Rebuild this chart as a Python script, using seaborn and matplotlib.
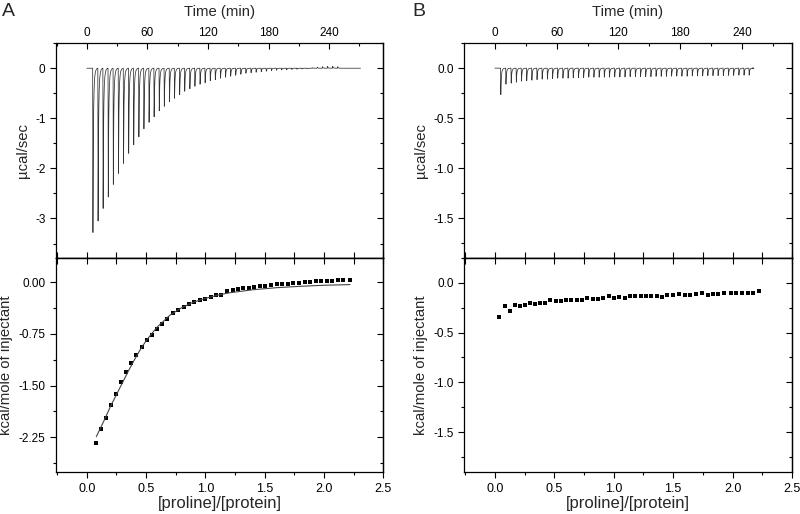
import numpy as np
import pandas as pd
import matplotlib
matplotlib.use("Agg")
import matplotlib.pyplot as plt
import seaborn as sns
from matplotlib.ticker import MultipleLocator, FormatStrFormatter, NullFormatter

# ---------------- data ----------------
# Panel A raw thermogram: injection times (min) and peak heights (ucal/sec)
A_inj_time = [5.8, 10.9, 15.9, 21.0, 26.0, 31.1, 36.1, 41.2, 46.2, 51.3,
              56.3, 61.4, 66.4, 71.5, 76.5, 81.6, 86.6, 91.7, 96.7, 101.8,
              106.8, 111.9, 116.9, 122.0, 127.0, 132.1, 137.1, 142.2, 147.2, 152.3,
              157.3, 162.4, 167.4, 172.5, 177.5, 182.6, 187.6, 192.7, 197.7, 202.8,
              207.8, 212.9, 217.9, 223.0, 228.0, 233.1, 238.1, 243.2, 248.2]
A_peak = [-3.28, -3.05, -2.80, -2.57, -2.32, -2.10, -1.90, -1.70, -1.53, -1.37,
          -1.21, -1.08, -0.97, -0.85, -0.76, -0.67, -0.60, -0.53, -0.46, -0.41,
          -0.36, -0.32, -0.29, -0.25, -0.23, -0.20, -0.18, -0.16, -0.14, -0.12,
          -0.10, -0.09, -0.08, -0.07, -0.06, -0.05, -0.04, -0.035, -0.03, -0.025,
          -0.02, -0.015, -0.01, 0.01, 0.02, 0.03, 0.035, 0.04, 0.03]
A_trace_end = 271.0

# Panel A integrated heats
A_ratio = [0.079, 0.121, 0.163, 0.205, 0.248, 0.290, 0.332, 0.374, 0.417, 0.462,
           0.507, 0.549, 0.592, 0.634, 0.676, 0.727, 0.769, 0.817, 0.862, 0.907,
           0.952, 1.000, 1.048, 1.093, 1.135, 1.183, 1.231, 1.276, 1.318, 1.366,
           1.414, 1.459, 1.507, 1.555, 1.600, 1.648, 1.696, 1.741, 1.789, 1.837,
           1.882, 1.930, 1.978, 2.023, 2.071, 2.118, 2.164, 2.217]
A_heat = [-2.33, -2.13, -1.97, -1.78, -1.62, -1.45, -1.30, -1.17, -1.055, -0.945,
          -0.84, -0.76, -0.68, -0.605, -0.54, -0.445, -0.40, -0.365, -0.32, -0.285,
          -0.257, -0.238, -0.209, -0.18, -0.19, -0.13, -0.112, -0.097, -0.088, -0.078,
          -0.064, -0.054, -0.049, -0.035, -0.03, -0.02, -0.02, -0.01, -0.005, 0.005,
          0.005, 0.01, 0.015, 0.015, 0.02, 0.03, 0.033, 0.035]
# Panel A fitted curve
A_fit_ratio = [0.08, 0.15, 0.2, 0.25, 0.3, 0.35, 0.4, 0.45, 0.5, 0.55, 0.6, 0.7, 0.8,
               0.9, 1.0, 1.1, 1.2, 1.4, 1.6, 1.8, 2.0, 2.22]
A_fit_heat = [-2.24, -1.99, -1.80, -1.63, -1.46, -1.29, -1.13, -0.98, -0.85, -0.74,
              -0.64, -0.48, -0.37, -0.29, -0.235, -0.19, -0.155, -0.11, -0.08,
              -0.06, -0.045, -0.035]

# Panel B raw thermogram
B_inj_time = [5.5, 10.5, 15.6, 20.6, 25.6, 30.7, 35.7, 40.7, 45.7, 50.8,
              55.8, 60.8, 65.9, 70.9, 75.9, 81.0, 86.0, 91.0, 96.0, 101.1,
              106.1, 111.1, 116.2, 121.2, 126.2, 131.2, 136.3, 141.3, 146.3, 151.4,
              156.4, 161.4, 166.4, 171.5, 176.5, 181.5, 186.6, 191.6, 196.6, 201.7,
              206.7, 211.7, 216.7, 221.8, 226.8, 231.8, 236.9, 241.9, 246.9]
B_peak = [-0.265, -0.16, -0.15, -0.14, -0.13, -0.125, -0.12, -0.115, -0.11, -0.11,
          -0.105, -0.10, -0.10, -0.10, -0.095, -0.095, -0.095, -0.09, -0.09, -0.09,
          -0.09, -0.09, -0.088, -0.088, -0.088, -0.085, -0.085, -0.085, -0.085, -0.085,
          -0.082, -0.082, -0.082, -0.08, -0.08, -0.08, -0.08, -0.078, -0.078, -0.078,
          -0.075, -0.075, -0.075, -0.075, -0.072, -0.072, -0.07, -0.07, -0.07]
B_trace_end = 250.0

# Panel B integrated heats
B_ratio = [0.036, 0.087, 0.126, 0.168, 0.211, 0.253, 0.295, 0.337, 0.379, 0.421,
           0.466, 0.511, 0.556, 0.601, 0.643, 0.688, 0.733, 0.778, 0.823, 0.868,
           0.912, 0.958, 1.003, 1.048, 1.093, 1.137, 1.182, 1.228, 1.272, 1.317,
           1.362, 1.407, 1.452, 1.497, 1.553, 1.598, 1.643, 1.688, 1.741, 1.789,
           1.834, 1.881, 1.929, 1.985, 2.030, 2.078, 2.126, 2.171, 2.224]
B_heat = [-0.346, -0.233, -0.28, -0.223, -0.23, -0.22, -0.20, -0.213, -0.207, -0.203,
          -0.17, -0.187, -0.18, -0.173, -0.17, -0.17, -0.177, -0.15, -0.157, -0.157,
          -0.153, -0.133, -0.147, -0.137, -0.147, -0.13, -0.13, -0.133, -0.133, -0.133,
          -0.133, -0.137, -0.12, -0.12, -0.11, -0.117, -0.117, -0.113, -0.103, -0.117,
          -0.113, -0.11, -0.103, -0.097, -0.10, -0.097, -0.097, -0.10, -0.077]

# ---------------- style constants ----------------
# shape of a single injection peak (time offset in min, fraction of peak height)
PEAK_DT = [0.0, 0.25, 0.45, 0.7, 1.0, 1.4, 1.9, 2.5, 3.2, 4.0, 4.8]
PEAK_FRAC = [0.0, 1.0, 0.66, 0.42, 0.25, 0.13, 0.065, 0.03, 0.012, 0.004, 0.0]

A_min_per_ratio = 117.4
B_min_per_ratio = 115.5

sns.set_theme(style="ticks")
plt.rcParams["font.family"] = ["Liberation Sans", "DejaVu Sans"]
plt.rcParams["axes.unicode_minus"] = False
plt.rcParams["axes.linewidth"] = 0.9
plt.rcParams["axes.edgecolor"] = "black"

TICK_FS = 8.5
LABEL_FS = 10.7
XLABEL_FS = 12


def build_trace(times, peaks, t_end):
    t = [0.0]
    v = [0.0]
    for ti, hi in zip(times, peaks):
        for dt, f in zip(PEAK_DT, PEAK_FRAC):
            t.append(ti + dt)
            v.append(hi * f)
    t.append(t_end)
    v.append(0.0)
    return pd.DataFrame({"time": t, "power": v})


def style_ticks(a, axis, major_len=4.0, minor_len=2.4, direction="in"):
    a.tick_params(axis=axis, which="major", length=major_len, width=0.8,
                  direction=direction, colors="black", labelsize=TICK_FS)
    a.tick_params(axis=axis, which="minor", length=minor_len, width=0.8,
                  direction=direction, colors="black")


fig = plt.figure(figsize=(8.0, 5.14), dpi=100)

panels = [
    dict(left=0.070, width=0.409, times=A_inj_time, peaks=A_peak, tend=A_trace_end,
         scale=A_min_per_ratio, top_ylim=(-3.79, 0.5), top_major=1.0, top_minor=0.5,
         top_fmt="%d", bot_ylim=(-2.75, 0.35), bot_major=0.75, bot_minor=0.375,
         bot_fmt="%.2f", ratio=A_ratio, heat=A_heat, fit=(A_fit_ratio, A_fit_heat),
         letter="A", letter_x=0.003),
    dict(left=0.580, width=0.410, times=B_inj_time, peaks=B_peak, tend=B_trace_end,
         scale=B_min_per_ratio, top_ylim=(-1.9, 0.25), top_major=0.5, top_minor=0.25,
         top_fmt="%.1f", bot_ylim=(-1.9, 0.25), bot_major=0.5, bot_minor=0.25,
         bot_fmt="%.1f", ratio=B_ratio, heat=B_heat, fit=None,
         letter="B", letter_x=0.516),
]

RATIO_XLIM = (-0.26, 2.5)

for p in panels:
    ax_top = fig.add_axes([p["left"], 0.498, p["width"], 0.418])
    ax_bot = fig.add_axes([p["left"], 0.082, p["width"], 0.416])

    # ---------- raw thermogram ----------
    trace = build_trace(p["times"], p["peaks"], p["tend"])
    sns.lineplot(data=trace, x="time", y="power", ax=ax_top, color="#333333",
                 linewidth=0.55, estimator=None, sort=False)
    sc = p["scale"]
    ax_top.set_xlim(RATIO_XLIM[0] * sc, RATIO_XLIM[1] * sc)
    ax_top.set_ylim(*p["top_ylim"])
    ax_top.xaxis.tick_top()
    ax_top.xaxis.set_label_position("top")
    ax_top.xaxis.set_major_locator(MultipleLocator(60))
    ax_top.xaxis.set_minor_locator(MultipleLocator(30))
    style_ticks(ax_top, "x", direction="in")
    ax_top.tick_params(axis="x", which="major", pad=3)
    ax_top.set_xlabel("Time (min)", fontsize=LABEL_FS, labelpad=8)
    ax_top.yaxis.set_major_locator(MultipleLocator(p["top_major"]))
    ax_top.yaxis.set_minor_locator(MultipleLocator(p["top_minor"]))
    ax_top.yaxis.set_major_formatter(FormatStrFormatter(p["top_fmt"]))
    style_ticks(ax_top, "y", direction="out")
    ax_top.set_ylabel("µcal/sec", fontsize=LABEL_FS, labelpad=4)
    # bottom ticks of top panel (in ratio units) and right ticks
    sec_b = ax_top.secondary_xaxis("bottom", functions=(lambda t, s=sc: t / s,
                                                        lambda r, s=sc: r * s))
    sec_b.xaxis.set_major_locator(MultipleLocator(0.5))
    sec_b.xaxis.set_minor_locator(MultipleLocator(0.25))
    sec_b.xaxis.set_major_formatter(NullFormatter())
    style_ticks(sec_b, "x", major_len=4.0, minor_len=4.0, direction="in")
    sec_r = ax_top.secondary_yaxis("right")
    sec_r.yaxis.set_major_locator(MultipleLocator(p["top_major"]))
    sec_r.yaxis.set_minor_locator(MultipleLocator(p["top_minor"]))
    sec_r.yaxis.set_major_formatter(NullFormatter())
    style_ticks(sec_r, "y", direction="in")

    # ---------- integrated heats ----------
    pts = pd.DataFrame({"ratio": p["ratio"], "heat": p["heat"]})
    if p["fit"] is not None:
        fit = pd.DataFrame({"ratio": p["fit"][0], "heat": p["fit"][1]})
        sns.lineplot(data=fit, x="ratio", y="heat", ax=ax_bot, color="#444444",
                     linewidth=0.8, estimator=None)
    sns.scatterplot(data=pts, x="ratio", y="heat", ax=ax_bot, marker="s", s=9,
                    color="black", edgecolor="black", linewidth=0)
    ax_bot.set_xlim(*RATIO_XLIM)
    ax_bot.set_ylim(*p["bot_ylim"])
    ax_bot.xaxis.set_major_locator(MultipleLocator(0.5))
    ax_bot.xaxis.set_minor_locator(MultipleLocator(0.25))
    ax_bot.xaxis.set_major_formatter(FormatStrFormatter("%.1f"))
    style_ticks(ax_bot, "x", direction="out")
    ax_bot.tick_params(axis="x", which="major", labelsize=9, pad=4)
    ax_bot.set_xlabel("[proline]/[protein]", fontsize=XLABEL_FS, labelpad=1)
    ax_bot.yaxis.set_major_locator(MultipleLocator(p["bot_major"]))
    ax_bot.yaxis.set_minor_locator(MultipleLocator(p["bot_minor"]))
    ax_bot.yaxis.set_major_formatter(FormatStrFormatter(p["bot_fmt"]))
    style_ticks(ax_bot, "y", direction="out")
    ax_bot.set_ylabel("kcal/mole of injectant", fontsize=LABEL_FS, labelpad=4)
    sec_t = ax_bot.secondary_xaxis("top")
    sec_t.xaxis.set_major_locator(MultipleLocator(0.5))
    sec_t.xaxis.set_minor_locator(MultipleLocator(0.25))
    sec_t.xaxis.set_major_formatter(NullFormatter())
    style_ticks(sec_t, "x", major_len=4.0, minor_len=4.0, direction="in")
    sec_r2 = ax_bot.secondary_yaxis("right")
    sec_r2.yaxis.set_major_locator(MultipleLocator(p["bot_major"]))
    sec_r2.yaxis.set_minor_locator(MultipleLocator(p["bot_minor"]))
    sec_r2.yaxis.set_major_formatter(NullFormatter())
    style_ticks(sec_r2, "y", direction="in")

    for a in (ax_top, ax_bot):
        for s in a.spines.values():
            s.set_visible(True)
            s.set_color("black")

    fig.text(p["letter_x"], 0.995, p["letter"], fontsize=14, ha="left", va="top")

fig.savefig("out.png", dpi=100)
